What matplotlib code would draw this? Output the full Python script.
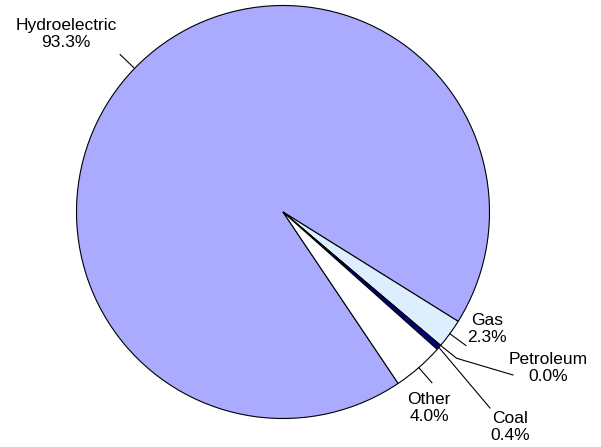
import numpy as np
import matplotlib.pyplot as plt

plt.rcParams['font.family'] = ['Liberation Sans', 'DejaVu Sans']

sources = ["Hydroelectric", "Gas", "Petroleum", "Coal", "Other"]
shares = [93.3, 2.3, 0.0, 0.4, 4.0]
colors = ["#AAAAFF", "#DDEEFF", "#6666AA", "#000080", "#FFFFFF"]

W, H = 601, 447
fig = plt.figure(figsize=(W / 100, H / 100), dpi=100)
ax = fig.add_axes([0, 0, 1, 1])
ax.set_xlim(0, W)
ax.set_ylim(0, H)
ax.set_aspect("equal")
ax.axis("off")

cx, cy, r = 283, H - 212, 206.5
wedges, _ = ax.pie(shares, colors=colors, center=(cx, cy), radius=r,
                   startangle=-56.1, counterclock=False,
                   wedgeprops=dict(edgecolor="black", linewidth=0.8))
ax.set_xlim(0, W)
ax.set_ylim(0, H)


def on_circle(angle, rad):
    a = np.deg2rad(angle)
    return cx + rad * np.cos(a), cy + rad * np.sin(a)


# label block centres in pixel coordinates (y down)
label_pos = {
    "Hydroelectric": (66, 34),
    "Gas": (487, 329),
    "Petroleum": (548, 368),
    "Coal": (510, 427),
    "Other": (429, 408),
}

for w, name, val in zip(wedges, sources, shares):
    mid = (w.theta1 + w.theta2) / 2
    x0, y0 = on_circle(mid, r)
    if name == "Coal":
        pts = [(x0, y0), (490, H - 408)]
    elif name == "Petroleum":
        pts = [(x0, y0), (456.7, H - 358.3), (513, H - 375)]
    else:
        x1, y1 = on_circle(mid, r + 20)
        pts = [(x0, y0), (x1, y1)]
    xs, ys = zip(*pts)
    ax.plot(xs, ys, color="black", linewidth=0.8)
    lx, ly = label_pos[name]
    ax.text(lx, H - ly, f"{name}\n{val:.1f}%", ha="center", va="center",
            multialignment="center", fontsize=12.5, linespacing=1.2,
            color="black")

fig.savefig("out.png", dpi=100)
